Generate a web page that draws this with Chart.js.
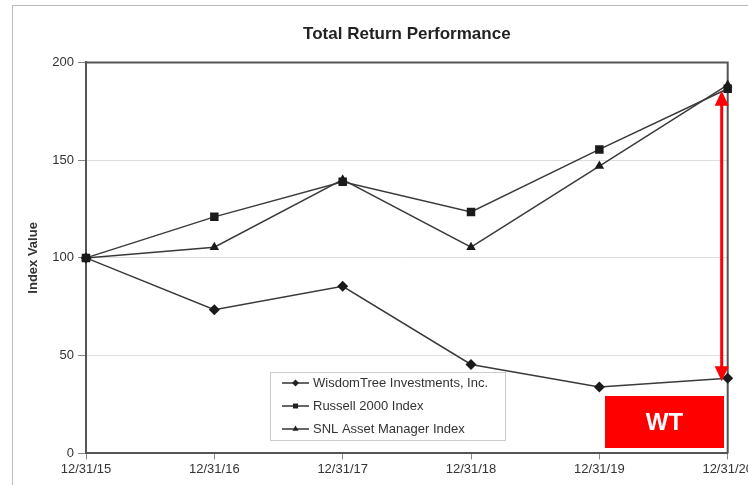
<!DOCTYPE html>
<html>
<head>
<meta charset="utf-8">
<script src="https://cdn.jsdelivr.net/npm/chart.js@4"></script>
<style>
  html, body { margin: 0; padding: 0; background: #fff; overflow: hidden; }
  #wrap { position: relative; width: 748px; height: 485px; overflow: hidden; }
  #frame { position: absolute; left: 12px; top: 5px; width: 760px; height: 500px; border: 1px solid #bbb; box-sizing: border-box; }
  canvas { position: absolute; left: 0; top: 0; }
</style>
</head>
<body>
<div id="wrap">
  <div id="frame"></div>
  <canvas id="myChart" width="755" height="485"></canvas>
</div>
<script>
// Year-end dates
const dates = ['12/31/15', '12/31/16', '12/31/17', '12/31/18', '12/31/19', '12/31/20'];

// Index values (base 100)
const wisdomTree = [100, 73.5, 85.5, 45.5, 34, 38.5];
const russell2000 = [100, 121, 139, 123.5, 155.5, 186.5];
const snlAssetMgr = [100, 105.5, 140, 105.5, 147, 188.5];

const seriesNames = ['WisdomTree Investments, Inc.', 'Russell 2000 Index', 'SNL Asset Manager Index'];
const markerStyles = ['rectRot', 'rect', 'triangle'];

const yTicks = [0, 50, 100, 150, 200];
const badgeText = 'WT';

const FONT = '"Liberation Sans", Arial, sans-serif';

// Legend box drawn inside the plot (bottom middle)
const insideLegend = {
    id: 'insideLegend',
    afterDatasetsDraw(chart) {
        const ctx = chart.ctx;
        const x0 = 270, y0 = 372, w = 235, h = 68;
        ctx.save();
        ctx.fillStyle = '#fff';
        ctx.fillRect(x0, y0, w, h);
        ctx.strokeStyle = '#ccc';
        ctx.lineWidth = 1;
        ctx.strokeRect(x0 + 0.5, y0 + 0.5, w, h);
        ctx.font = '13px ' + FONT;
        ctx.textBaseline = 'middle';
        seriesNames.forEach((name, i) => {
            const y = y0 + 11 + i * 23;
            ctx.strokeStyle = '#333';
            ctx.lineWidth = 1.5;
            ctx.beginPath();
            ctx.moveTo(x0 + 12, y);
            ctx.lineTo(x0 + 39, y);
            ctx.stroke();
            ctx.fillStyle = '#222';
            Chart.helpers.drawPoint(ctx, { pointStyle: markerStyles[i], radius: 3.5, borderWidth: 0 }, x0 + 25.5, y);
            ctx.fillStyle = '#333';
            ctx.fillText(name, x0 + 43, y);
        });
        ctx.restore();
    }
};

// Red double-headed arrow and WT badge
const annotations = {
    id: 'annotations',
    afterDraw(chart) {
        const ctx = chart.ctx;
        const xs = chart.scales.x, ys = chart.scales.y;
        const last = dates.length - 1;
        const ax = xs.getPixelForValue(last) - 6;
        const yTop = ys.getPixelForValue(russell2000[last]) + 2;
        const yBot = ys.getPixelForValue(wisdomTree[last]) + 3;
        ctx.save();
        ctx.strokeStyle = '#ff0000';
        ctx.fillStyle = '#ff0000';
        ctx.lineWidth = 3;
        ctx.beginPath();
        ctx.moveTo(ax, yTop + 12);
        ctx.lineTo(ax, yBot - 12);
        ctx.stroke();
        ctx.beginPath();
        ctx.moveTo(ax, yTop);
        ctx.lineTo(ax - 7, yTop + 15);
        ctx.lineTo(ax + 7, yTop + 15);
        ctx.closePath();
        ctx.fill();
        ctx.beginPath();
        ctx.moveTo(ax, yBot);
        ctx.lineTo(ax - 7, yBot - 15);
        ctx.lineTo(ax + 7, yBot - 15);
        ctx.closePath();
        ctx.fill();
        // badge
        const bx = 605, by = 396, bw = 119, bh = 52;
        ctx.fillRect(bx, by, bw, bh);
        ctx.fillStyle = '#fff';
        ctx.font = 'bold 24px ' + FONT;
        ctx.textAlign = 'center';
        ctx.textBaseline = 'middle';
        ctx.fillText(badgeText, bx + bw / 2, by + bh / 2 + 1);
        ctx.restore();
    }
};

// Dark frame on top and right of the plot area
const plotFrame = {
    id: 'plotFrame',
    beforeDatasetsDraw(chart) {
        const { ctx, chartArea } = chart;
        ctx.save();
        ctx.strokeStyle = '#555';
        ctx.lineWidth = 2;
        ctx.beginPath();
        ctx.moveTo(chartArea.left, chartArea.top);
        ctx.lineTo(chartArea.right, chartArea.top);
        ctx.lineTo(chartArea.right, chartArea.bottom);
        ctx.stroke();
        ctx.restore();
    }
};

function makeSet(label, data, style) {
    return {
        label: label,
        data: data,
        borderColor: '#3a3a3a',
        backgroundColor: '#1a1a1a',
        borderWidth: 1.5,
        pointStyle: style,
        pointRadius: style === 'rect' ? 6 : 5.5,
        pointBorderWidth: 0,
        pointBackgroundColor: '#1a1a1a',
        tension: 0,
        fill: false
    };
}

const ctx = document.getElementById('myChart').getContext('2d');
const chart = new Chart(ctx, {
    type: 'line',
    data: {
        labels: dates,
        datasets: [
            makeSet(seriesNames[0], wisdomTree, markerStyles[0]),
            makeSet(seriesNames[1], russell2000, markerStyles[1]),
            makeSet(seriesNames[2], snlAssetMgr, markerStyles[2])
        ]
    },
    options: {
        responsive: false,
        animation: false,
        layout: { padding: { left: 0, right: 0, top: 0, bottom: 6 } },
        plugins: {
            legend: { display: false },
            tooltip: { enabled: false },
            title: {
                display: true,
                fullSize: false,
                text: 'Total Return Performance',
                color: '#222',
                font: { family: FONT, size: 17, weight: 'bold' },
                padding: { top: 24, bottom: 18 }
            }
        },
        scales: {
            x: {
                offset: false,
                grid: { display: true, drawOnChartArea: false, drawTicks: true, tickLength: 6, color: '#888' },
                border: { display: true, color: '#555', width: 2 },
                ticks: { color: '#333', font: { family: FONT, size: 13 }, padding: 2, maxRotation: 0, autoSkip: false }
            },
            y: {
                min: 0,
                max: 200,
                afterBuildTicks: (scale) => { scale.ticks = yTicks.map(v => ({ value: v })); },
                afterFit: (scale) => { scale.width = 86; },
                grid: { color: '#ddd', tickLength: 8, tickColor: '#888' },
                border: { display: true, color: '#555', width: 2 },
                ticks: { color: '#333', font: { family: FONT, size: 13 }, padding: 4 },
                title: {
                    display: true,
                    text: 'Index Value',
                    color: '#333',
                    font: { family: FONT, size: 13, weight: 'bold' },
                    padding: { top: 26, bottom: 4 }
                }
            }
        }
    },
    plugins: [plotFrame, insideLegend, annotations]
});
</script>
</body>
</html>
